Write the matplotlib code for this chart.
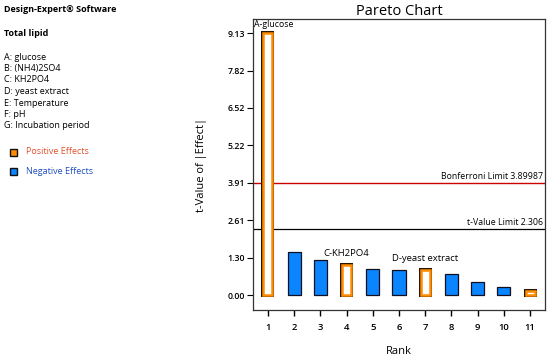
import matplotlib
matplotlib.use("Agg")
import matplotlib.pyplot as plt
import matplotlib.patheffects as pe
from matplotlib.patches import Rectangle

plt.rcParams['font.family'] = ['Open Sans', 'DejaVu Sans']

ranks = [1, 2, 3, 4, 5, 6, 7, 8, 9, 10, 11]
t_values = [9.13, 1.50, 1.22, 1.05, 0.91, 0.88, 0.89, 0.73, 0.46, 0.28, 0.14]
positive = [True, False, False, True, False, False, True, False, False, False, True]
bar_labels = {1: "A-glucose", 4: "C-KH2PO4", 7: "D-yeast extract"}
y_ticks = [0.00, 1.30, 2.61, 3.91, 5.22, 6.52, 7.82, 9.13]
bonferroni = 3.89987
t_limit = 2.306
factors = ["A: glucose", "B: (NH4)2SO4", "C: KH2PO4", "D: yeast extract",
           "E: Temperature", "F: pH", "G: Incubation period"]

ORANGE = "#FF8C00"
BLUE = "#0A84FF"
DARK = "#2a1500"

fig = plt.figure(figsize=(5.5, 3.58), dpi=100)
ax = fig.add_axes([0.46, 0.134, 0.531, 0.813])

# limit lines
ax.axhline(bonferroni, color="#CC0000", lw=1.0, zorder=1)
ax.axhline(t_limit, color="black", lw=0.9, zorder=1)
ax.text(11.5, bonferroni + 0.08, f"Bonferroni Limit {bonferroni}", ha="right", va="bottom", fontsize=6.3)
ax.text(11.5, t_limit + 0.08, f"t-Value Limit {t_limit}", ha="right", va="bottom", fontsize=6.3)

for r, v, pos in zip(ranks, t_values, positive):
    if pos:
        b = ax.bar(r, v, width=0.345, color="white", edgecolor=ORANGE, lw=1.8, zorder=3)
        for p in b.patches:
            p.set_path_effects([pe.Stroke(linewidth=2.9, foreground=DARK), pe.Normal()])
    else:
        ax.bar(r, v, width=0.5, color=BLUE, edgecolor="#101020", lw=0.9, zorder=3)

for r, v in zip(ranks, t_values):
    if r in bar_labels and r != 1:
        ax.annotate(bar_labels[r], (r, v), xytext=(0, 5), textcoords="offset points",
                    ha="center", va="bottom", fontsize=6.8)
ax.text(0.003, 0.998, bar_labels[1], transform=ax.transAxes, ha="left", va="top", fontsize=6.3)

ax.set_xlim(0.43, 11.57)
ax.set_ylim(-0.52, 9.62)
ax.set_xticks(ranks)
ax.set_xticklabels([str(r) for r in ranks], fontsize=6.8, fontweight="semibold")
ax.set_yticks(y_ticks)
ax.set_yticklabels([f"{t:.2f}" for t in y_ticks], fontsize=6.3, fontweight="semibold")
ax.tick_params(axis="x", length=4, width=1.0, pad=5)
ax.tick_params(axis="y", length=4, width=0.8, pad=2)
for s in ax.spines.values():
    s.set_linewidth(0.9)
    s.set_color("#333333")

ax.set_title("Pareto Chart", fontsize=10.5, pad=3)
ax.set_ylabel("t-Value of |Effect|", fontsize=8)
ax.yaxis.set_label_coords(-0.158, 0.5)
ax.set_xlabel("Rank", fontsize=8)
ax.xaxis.set_label_coords(0.5, -0.125)

# left info panel
fig.text(4 / 550, 1 - 10 / 358, "Design-Expert\u00ae Software", fontsize=6.5, fontweight="bold", va="center")
fig.text(4 / 550, 1 - 33 / 358, "Total lipid", fontsize=6.5, fontweight="bold", va="center")
for i, f in enumerate(factors):
    fig.text(4 / 550, 1 - (57 + i * 11.5) / 358, f, fontsize=6.5, va="center")

for yy, col, lab, tcol in [(152, ORANGE, "Positive Effects", "#E2502E"),
                           (171, BLUE, "Negative Effects", "#1F4FC0")]:
    fig.patches.append(Rectangle((10 / 550, 1 - (yy + 3.5) / 358), 7 / 550, 7 / 358,
                                 transform=fig.transFigure, facecolor=col,
                                 edgecolor="#111111", lw=1.0))
    fig.text(26 / 550, 1 - yy / 358, lab, fontsize=6.5, color=tcol, va="center")

fig.savefig("out.png", dpi=100)
